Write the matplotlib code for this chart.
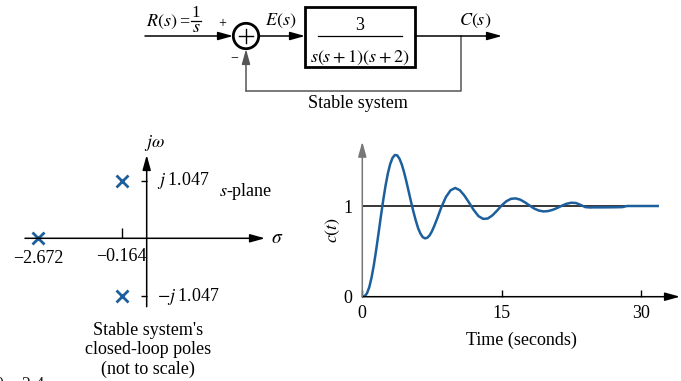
import numpy as np
import matplotlib
matplotlib.use("Agg")
import matplotlib.pyplot as plt
from matplotlib.patches import Rectangle, Circle

plt.rcParams['font.family'] = ['Liberation Serif', 'DejaVu Serif']
plt.rcParams['mathtext.fontset'] = 'stix'

# --- data ---
# closed-loop poles (real, imag)
pole_re = [-2.672, -0.164, -0.164]
pole_im = [0.0, 1.047, -1.047]

# step response c(t)
t_sec = [0, 0.25, 0.5, 0.75, 1.0, 1.25, 1.5, 1.75, 2.0, 2.25, 2.5, 2.75, 3.0, 3.25,
         3.5, 3.75, 4.0, 4.25, 4.5, 4.75, 5.0, 5.25, 5.5, 5.75, 6.0, 6.25, 6.5, 6.75,
         7.0, 7.25, 7.5, 7.75, 8.0, 8.5, 9.0, 9.5, 10.0, 10.5, 11.0, 11.5, 12.0, 12.5,
         13.0, 13.5, 14.0, 14.5, 15.0, 15.5, 16.0, 16.5, 17.0, 17.5, 18.0, 18.5, 19.0,
         19.5, 20.0, 20.5, 21.0, 21.5, 22.0, 22.5, 23.0, 23.5, 24.0, 24.5, 25.0, 26.0,
         27.0, 28.0, 28.5, 30.0, 31.8]
c_t = [0.0, 0.005, 0.037, 0.105, 0.213, 0.354, 0.520, 0.701, 0.886, 1.063, 1.223,
       1.358, 1.462, 1.530, 1.562, 1.559, 1.522, 1.458, 1.371, 1.268, 1.157, 1.045,
       0.939, 0.842, 0.758, 0.697, 0.658, 0.643, 0.650, 0.677, 0.722, 0.781, 0.845,
       0.984, 1.099, 1.173, 1.199, 1.174, 1.114, 1.036, 0.955, 0.889, 0.858, 0.862,
       0.896, 0.948, 1.006, 1.052, 1.079, 1.084, 1.070, 1.041, 1.006, 0.972, 0.950,
       0.940, 0.944, 0.958, 0.979, 1.004, 1.025, 1.036, 1.033, 1.012, 0.988, 0.984,
       0.985, 0.985, 0.986, 0.988, 1.0, 1.0, 1.0]
final_value = 1.0
final_line_end = 28.3
t_ticks = [0, 15, 30]
c_ticks = [0, 1]

blue = '#1d5f9c'
W, H = 681, 381
fig = plt.figure(figsize=(W / 100, H / 100), dpi=100)

def px_axes(left, top, right, bottom):
    return fig.add_axes([left / W, 1 - bottom / H, (right - left) / W, (bottom - top) / H])

# --- block diagram (pixel coordinates) ---
bg = fig.add_axes([0, 0, 1, 1])
bg.set_xlim(0, W)
bg.set_ylim(H, 0)
bg.axis('off')
arr = dict(arrowstyle='-|>,head_length=0.9,head_width=0.25', color='k', lw=1.1,
           shrinkA=0, shrinkB=0, mutation_scale=10)
garr = dict(arr, color='#555555')
bg.annotate('', xy=(233, 36), xytext=(145, 36), arrowprops=arr)
bg.add_patch(Circle((246, 36), 12.7, fill=False, lw=2, ec='k'))
bg.plot([239, 253], [36, 36], color='k', lw=1)
bg.plot([246, 246], [29, 43], color='k', lw=1)
bg.annotate('', xy=(305, 36), xytext=(259, 36), arrowprops=arr)
bg.add_patch(Rectangle((305, 7), 110, 60, fill=False, lw=2, ec='k'))
bg.plot([318, 402], [36, 36], color='k', lw=0.9)
bg.text(360, 26, '3', ha='center', va='center', fontsize=13)
bg.text(360, 58, r'$s(s+1)(s+2)$', ha='center', va='center', fontsize=13)
bg.annotate('', xy=(502, 36), xytext=(415, 36), arrowprops=arr)
bg.plot([460.7, 460.7, 246], [36, 90.7, 90.7], color='#555555', lw=1.1)
bg.annotate('', xy=(246, 49), xytext=(246, 90.7), arrowprops=garr)
bg.text(146, 22, r'$R(s)$', ha='left', va='center', fontsize=13)
bg.text(184, 22, '=', ha='center', va='center', fontsize=13)
bg.plot([191, 201], [21, 21], color='k', lw=0.9)
bg.text(196, 13, '1', ha='center', va='center', fontsize=12)
bg.text(196, 28, r'$s$', ha='center', va='center', fontsize=13)
bg.text(222, 24, '+', ha='center', va='center', fontsize=10)
bg.text(234, 58, '\u2212', ha='center', va='center', fontsize=10)
bg.text(281, 21, r'$E(s)$', ha='center', va='center', fontsize=13)
bg.text(475, 21, r'$C(s)$', ha='center', va='center', fontsize=13)
bg.text(358, 104, 'Stable system', ha='center', va='center', fontsize=13)
bg.text(-5, 377, '0, y2.4', ha='left', va='top', fontsize=13, color='#222222')

# --- s-plane (not to scale) ---
pw = 0.525
ax1 = px_axes(25, 155, 265, 306.7)
ax1.set_xscale('function', functions=(lambda x: np.sign(x) * np.abs(x) ** pw,
                                      lambda y: np.sign(y) * np.abs(y) ** (1 / pw)))
xmin, xmax, ymin, ymax = -3.342, 3.168, -1.24, 1.51
ax1.set_xlim(xmin, xmax)
ax1.set_ylim(ymin, ymax)
ax1.patch.set_alpha(0)
for s in ax1.spines.values():
    s.set_visible(False)
ax1.spines['bottom'].set_position(('data', 0))
ax1.spines['left'].set_position(('data', 0))
ax1.annotate('', xy=(xmax, 0), xytext=(xmin, 0), arrowprops=arr)
ax1.annotate('', xy=(0, ymax), xytext=(0, ymin), arrowprops=arr)
ax1.set_xticks([pole_re[1]])
ax1.set_yticks(pole_im[1:])
ax1.tick_params(axis='x', direction='in', length=7, width=1, labelbottom=False)
ax1.tick_params(axis='y', direction='out', length=4, width=1, labelleft=False)
ax1.minorticks_off()
ax1.plot(pole_re, pole_im, ls='none', marker='x', ms=9, mew=2, color=blue, clip_on=False)
ax1.text(0.02, 1.73, r'$j\omega$', ha='center', va='center', fontsize=13, clip_on=False)
ax1.text(3.81, 0, r'$\sigma$', ha='center', va='center', fontsize=14, clip_on=False)
for im in pole_im[1:]:
    lab = r'$j\;$' if im > 0 else r'$-j\;$'
    ax1.text(0.03, im, lab + '%.3f' % abs(im), ha='left', va='center', fontsize=13)
ax1.text(pole_re[0], -0.36, '\u2212%.3f' % abs(pole_re[0]), ha='center', va='center', fontsize=13)
ax1.text(pole_re[1], -0.33, '\u2212%.3f' % abs(pole_re[1]), ha='center', va='center', fontsize=13)
ax1.text(2.26, 0.84, r'$s$-plane', ha='center', va='center', fontsize=13)
bg.text(148, 350, "Stable system's\nclosed-loop poles\n(not to scale)", ha='center',
        va='center', fontsize=13, linespacing=1.15)

# --- step response ---
tmax, cmax = 34.2, 1.709
ax2 = px_axes(362.3, 141.7, 680, 296.7)
ax2.set_xlim(0, tmax)
ax2.set_ylim(0, cmax)
ax2.patch.set_alpha(0)
for s in ax2.spines.values():
    s.set_visible(False)
ax2.hlines(final_value, 0, final_line_end, color='k', lw=1.1, zorder=2)
ax2.plot(t_sec, c_t, color=blue, lw=1.8, zorder=3)
ax2.annotate('', xy=(tmax, 0), xytext=(0, 0), arrowprops=arr, annotation_clip=False)
ax2.annotate('', xy=(0, cmax), xytext=(0, 0), arrowprops=dict(arr, color='#777777'),
             annotation_clip=False)
ax2.set_xticks(t_ticks)
ax2.set_yticks(c_ticks)
ax2.tick_params(axis='x', direction='in', length=5, width=1, pad=6, labelsize=13)
ax2.tick_params(axis='y', length=0, pad=7, labelsize=13)
ax2.set_xlabel('Time (seconds)', fontsize=13, labelpad=7)
bg.text(333, 230, r'$c(t)$', rotation=90, ha='center', va='center', fontsize=13)

fig.savefig('out.png', dpi=100)
